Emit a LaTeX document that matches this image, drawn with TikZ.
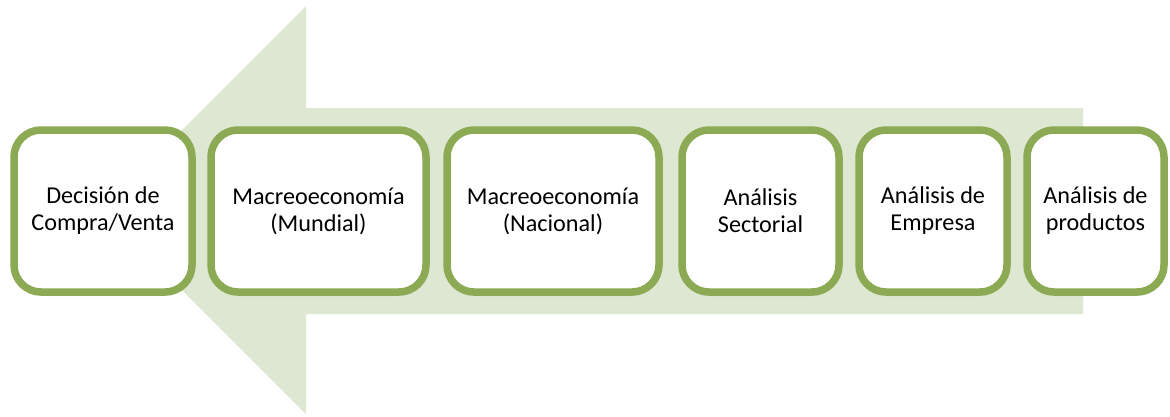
\documentclass[tikz,border=0pt]{standalone}
\usepackage{fontspec}
\setmainfont{Carlito}
\usetikzlibrary{shadows}
\definecolor{stepgreen}{HTML}{8CAA54}
\definecolor{arrowgreen}{HTML}{DDE7D1}
\tikzset{
  stagebox/.style={
    draw=stepgreen, line width=7.5pt, fill=white,
    rounded corners=27pt, minimum height=162pt,
    align=center, inner sep=0pt,
    font=\fontsize{24.2}{27}\selectfont,
    drop shadow={opacity=0.2, shadow xshift=0pt, shadow yshift=-4pt}
  },
  bigarrow/.style={fill=arrowgreen, draw=none}
}
\begin{document}
\begin{tikzpicture}[x=1pt, y=-1pt]
  \useasboundingbox (0,0) rectangle (1170,416);
  % broad arrow pointing left, behind the stages
  \fill[bigarrow] (1083,108) -- (306,108) -- (306,6) -- (102,210)
        -- (306,414) -- (306,314) -- (1083,314) -- cycle;
  % stages of the analysis
  \node[stagebox, minimum width=178pt] (decision) at (103,211)    {Decisión de\\Compra/Venta};
  \node[stagebox, minimum width=215pt] (mundial)  at (318.5,211)  {Macreoeconomía\\(Mundial)};
  \node[stagebox, minimum width=212pt] (nacional) at (553,211)    {Macreoeconomía\\(Nacional)};
  \node[stagebox, minimum width=157pt] (sector)   at (760.5,211)  {Análisis\\Sectorial};
  \node[stagebox, minimum width=148pt] (empresa)  at (933,211)    {Análisis de\\Empresa};
  \node[stagebox, minimum width=137pt] (producto) at (1095.5,211) {Análisis de\\productos};
\end{tikzpicture}
\end{document}
